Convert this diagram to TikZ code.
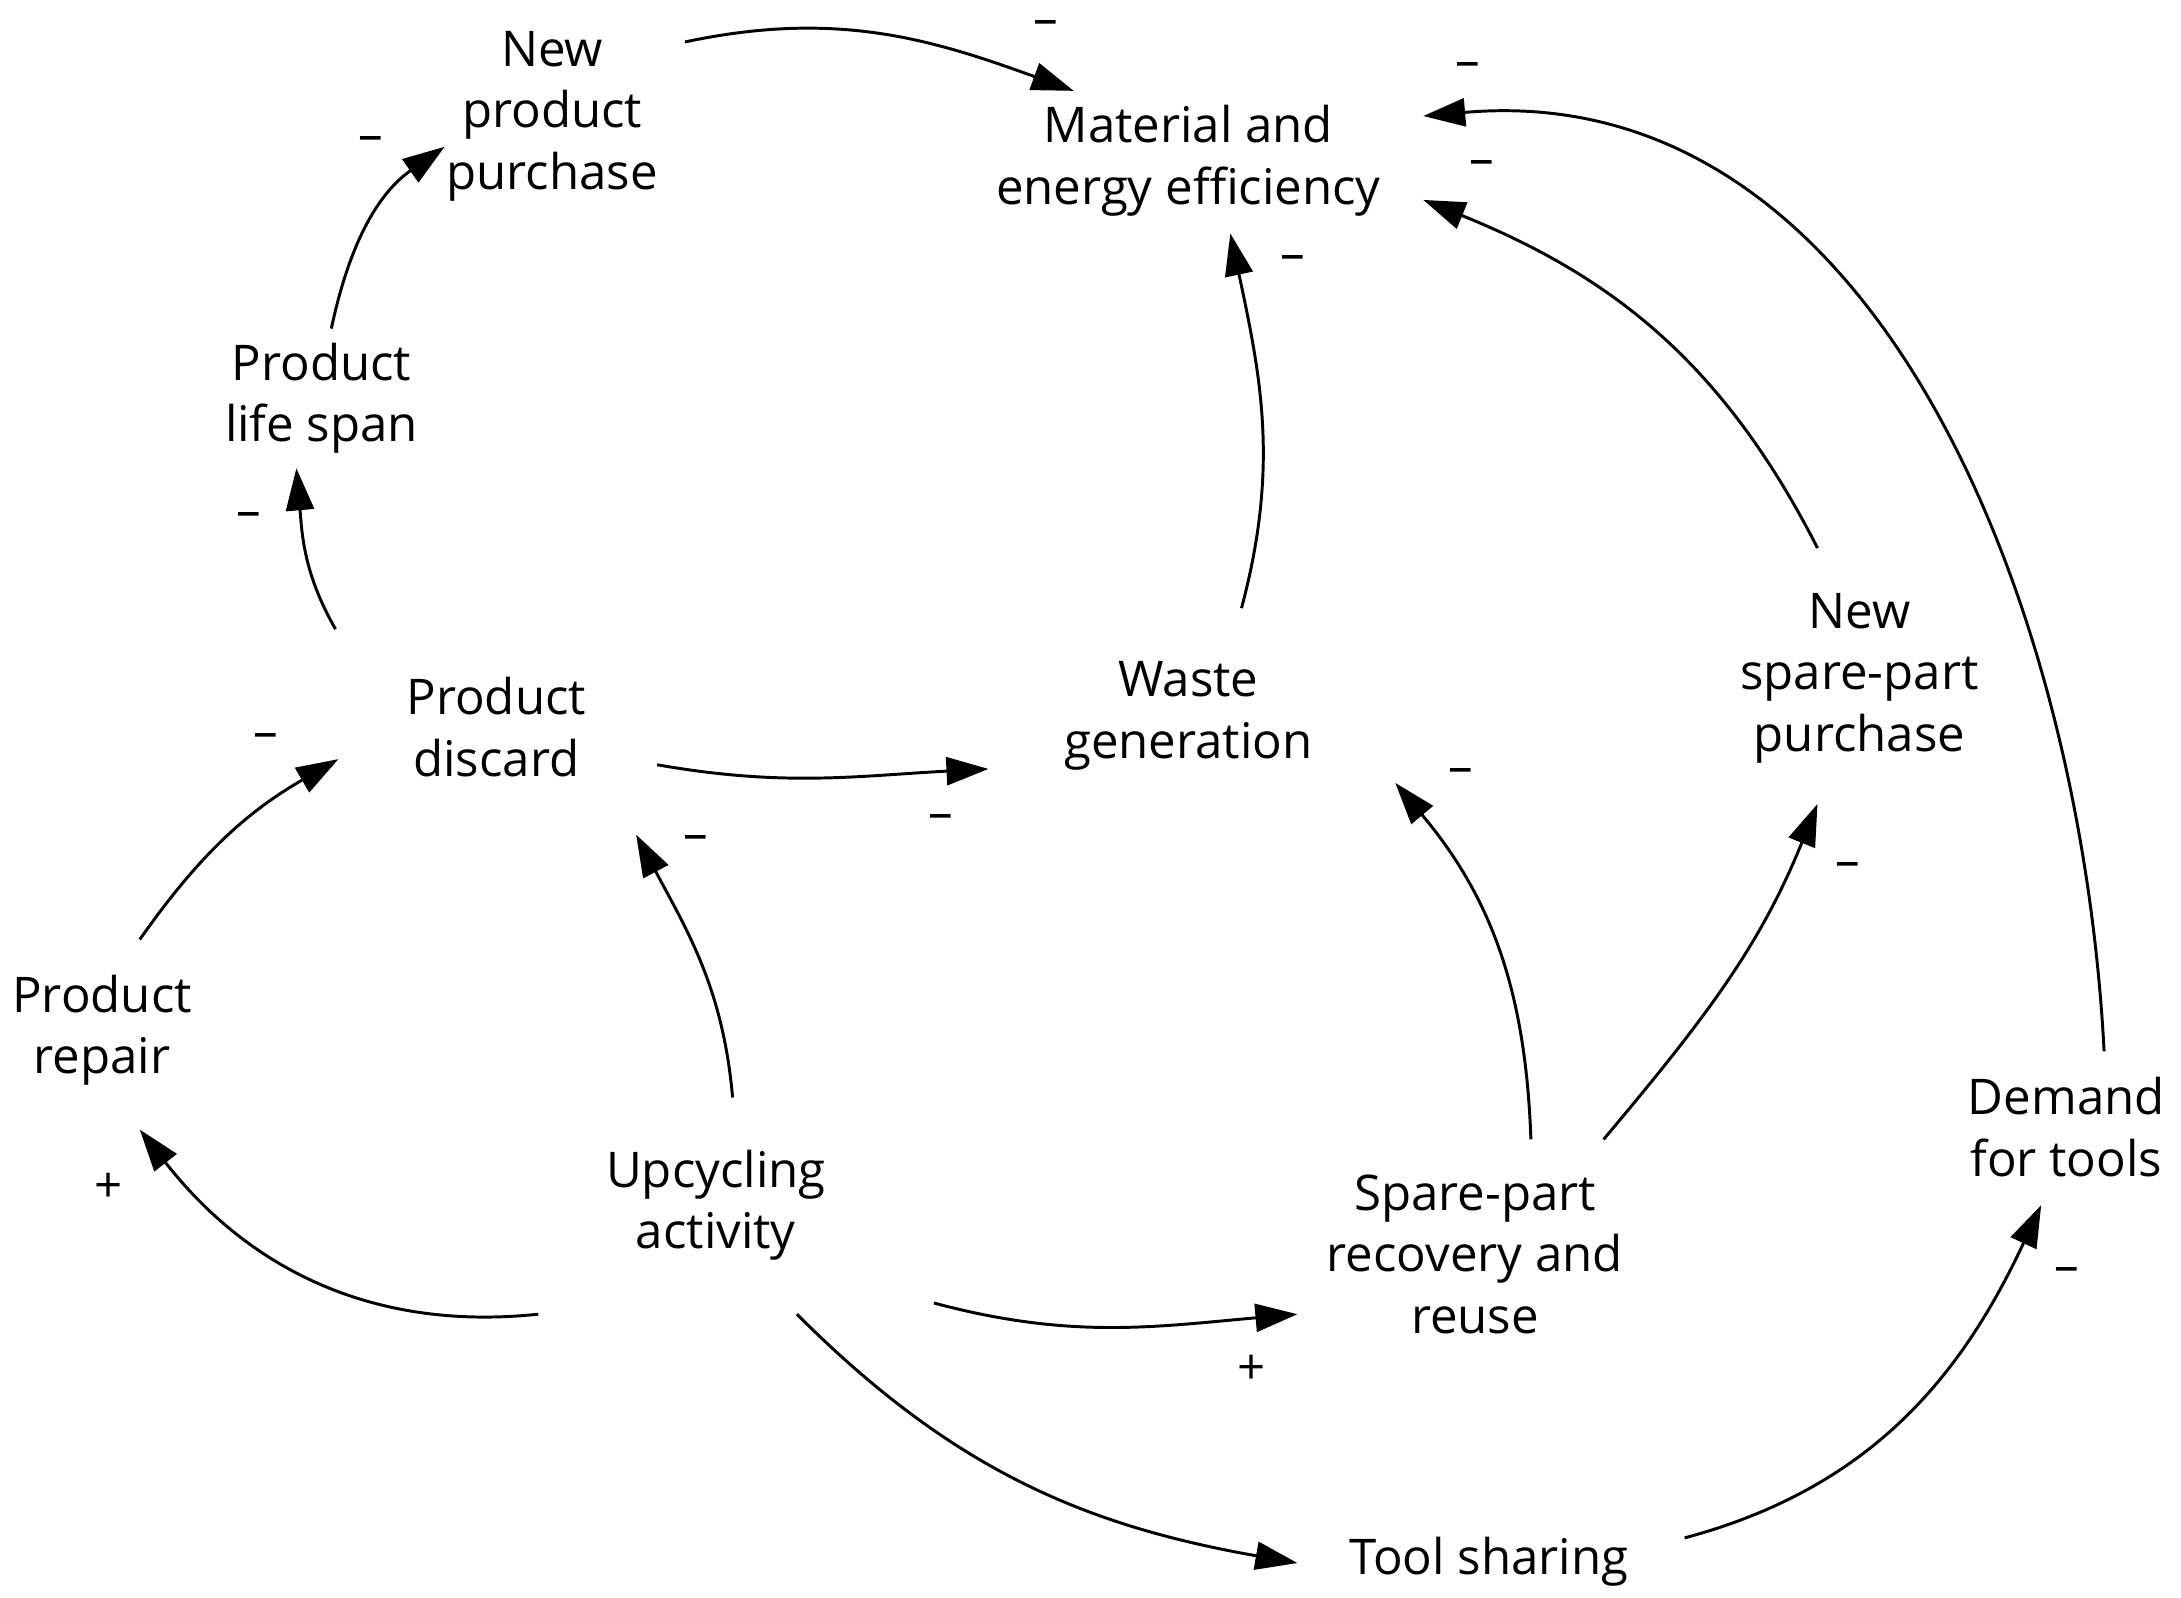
\documentclass[tikz,border=0pt]{standalone}
\usepackage{fontspec}
\setmainfont{Open Sans}
\usetikzlibrary{arrows.meta}
\begin{document}
\begin{tikzpicture}[x=0.01cm,y=0.01cm,
  lab/.style={align=center,font=\fontsize{10}{12.5}\selectfont},
  sg/.style={font=\fontsize{10}{12}\selectfont},
  arr/.style={line width=0.6pt,-{Triangle[length=0.3cm,width=0.2cm]}}]
\useasboundingbox (0,0) rectangle (1560,-1143);
\node[lab] (npp) at (395,-83) {New\\product\\purchase};
\node[lab] (mee) at (850,-115) {Material and\\energy efficiency};
\node[lab] (pls) at (230,-285) {Product\\life span};
\node[lab] (pd) at (355,-520) {Product\\discard};
\node[lab] (wg) at (850,-512) {Waste\\generation};
\node[lab] (nsp) at (1330,-485) {New\\spare-part\\purchase};
\node[lab] (pr) at (73,-737) {Product\\repair};
\node[lab] (ua) at (512,-862) {Upcycling\\activity};
\node[lab] (spr) at (1055,-897) {Spare-part\\recovery and\\reuse};
\node[lab] (dt) at (1478,-806) {Demand\\for tools};
\node[lab] (ts) at (1065,-1117) {Tool sharing};
% endpoints
\coordinate (a1) at (490,-30);  \coordinate (b1) at (768,-65);
\coordinate (a2) at (237,-235); \coordinate (b2) at (318,-105);
\coordinate (a3) at (240,-450); \coordinate (b3) at (212,-335);
\coordinate (a4) at (100,-672); \coordinate (b4) at (242,-543);
\coordinate (a5) at (385,-940); \coordinate (b5) at (100,-808);
\coordinate (a6) at (524,-785); \coordinate (b6) at (455,-597);
\coordinate (a7) at (470,-547); \coordinate (b7) at (707,-550);
\coordinate (a8) at (888,-435); \coordinate (b8) at (880,-167);
\coordinate (a9) at (1300,-392); \coordinate (b9) at (1018,-143);
\coordinate (a10) at (1505,-752); \coordinate (b10) at (1018,-83);
\coordinate (a11) at (1095,-815); \coordinate (b11) at (998,-560);
\coordinate (a12) at (1147,-815); \coordinate (b12) at (1300,-575);
\coordinate (a13) at (668,-932); \coordinate (b13) at (928,-940);
\coordinate (a14) at (570,-940); \coordinate (b14) at (928,-1118);
\coordinate (a15) at (1205,-1100); \coordinate (b15) at (1460,-862);
\draw[arr] (a1) to[out=12,in=160] (b1);
\draw[arr] (a2) to[out=78,in=215] (b2);
\draw[arr] (a3) to[out=120,in=-85] (b3);
\draw[arr] (a4) to[out=55,in=210] (b4);
\draw[arr] (a5) to[out=186,in=-52] (b5);
\draw[arr] (a6) to[out=95,in=-62] (b6);
\draw[arr] (a7) to[out=-10,in=183] (b7);
\draw[arr] (a8) to[out=75,in=-78] (b8);
\draw[arr] (a9) to[out=117,in=-22] (b9);
\draw[arr] (a10) to[out=93,in=5] (b10);
\draw[arr] (a11) to[out=92,in=-50] (b11);
\draw[arr] (a12) to[out=50,in=-112] (b12);
\draw[arr] (a13) to[out=-15,in=185] (b13);
\draw[arr] (a14) to[out=-45,in=170] (b14);
\draw[arr] (a15) to[out=15,in=-115] (b15);
% signs
\foreach \n/\x/\y in {m1/748/-20, m2/265/-103, m3/178/-372, m4/190/-530, m6/498/-603,
  m7/673/-588, m8/925/-188, m9/1060/-120, m10/1050/-50, m11/1045/-555, m12/1322/-622, m15/1478/-912}
  \node[sg] (\n) at (\x,\y) {–};
\node[sg] (p5) at (78,-850) {+};
\node[sg] (p13) at (895,-980) {+};
\end{tikzpicture}
\end{document}
